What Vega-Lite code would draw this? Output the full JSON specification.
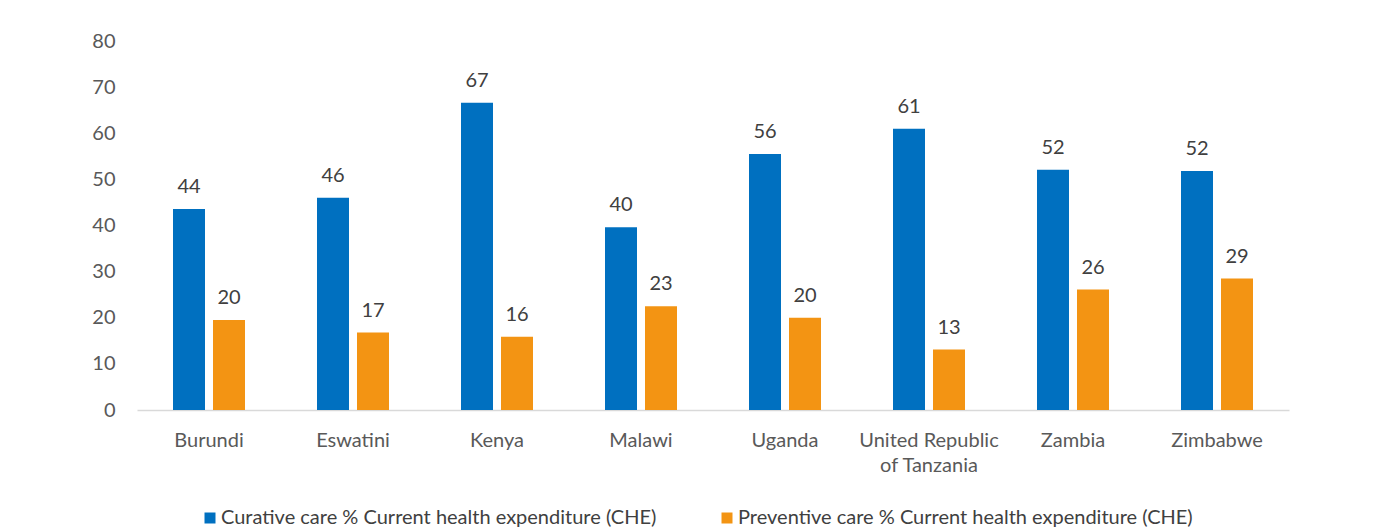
{
  "$schema": "https://vega.github.io/schema/vega-lite/v6.json",
  "autosize": "none",
  "width": 1152,
  "height": 369,
  "padding": {"left": 137, "top": 41, "right": 104, "bottom": 119},
  "background": "white",
  "config": {
    "font": "Lato",
    "view": {"stroke": null},
    "axis": {"labelFont": "Lato", "labelColor": "#595959", "labelFontSize": 20},
    "legend": {"labelFont": "Lato", "labelColor": "#404040", "labelFontSize": 20}
  },
  "data": {
    "values": [
      {"country": "Burundi", "series": "Curative care % Current health expenditure (CHE)", "value": 43.6},
      {"country": "Burundi", "series": "Preventive care % Current health expenditure (CHE)", "value": 19.5},
      {"country": "Eswatini", "series": "Curative care % Current health expenditure (CHE)", "value": 46.0},
      {"country": "Eswatini", "series": "Preventive care % Current health expenditure (CHE)", "value": 16.8},
      {"country": "Kenya", "series": "Curative care % Current health expenditure (CHE)", "value": 66.6},
      {"country": "Kenya", "series": "Preventive care % Current health expenditure (CHE)", "value": 15.9},
      {"country": "Malawi", "series": "Curative care % Current health expenditure (CHE)", "value": 39.6},
      {"country": "Malawi", "series": "Preventive care % Current health expenditure (CHE)", "value": 22.5},
      {"country": "Uganda", "series": "Curative care % Current health expenditure (CHE)", "value": 55.5},
      {"country": "Uganda", "series": "Preventive care % Current health expenditure (CHE)", "value": 20.0},
      {"country": "United Republic of Tanzania", "series": "Curative care % Current health expenditure (CHE)", "value": 61.0},
      {"country": "United Republic of Tanzania", "series": "Preventive care % Current health expenditure (CHE)", "value": 13.1},
      {"country": "Zambia", "series": "Curative care % Current health expenditure (CHE)", "value": 52.1},
      {"country": "Zambia", "series": "Preventive care % Current health expenditure (CHE)", "value": 26.1},
      {"country": "Zimbabwe", "series": "Curative care % Current health expenditure (CHE)", "value": 51.8},
      {"country": "Zimbabwe", "series": "Preventive care % Current health expenditure (CHE)", "value": 28.5}
    ]
  },
  "encoding": {
    "x": {
      "field": "country", "type": "nominal", "sort": null,
      "scale": {"paddingInner": 0, "paddingOuter": 0},
      "axis": {
        "title": null, "labelAngle": 0, "ticks": false,
        "domainColor": "#d9d9d9", "domainWidth": 1.5,
        "labelPadding": 20, "labelLineHeight": 25, "labelLimit": 300,
        "labelExpr": "datum.label == 'United Republic of Tanzania' ? ['United Republic', 'of Tanzania'] : datum.label"
      }
    },
    "xOffset": {
      "field": "series", "type": "nominal",
      "scale": {"paddingInner": 0.2, "paddingOuter": 0.9}
    },
    "y": {
      "field": "value", "type": "quantitative",
      "scale": {"domain": [0, 80], "nice": false},
      "axis": {"title": null, "values": [0, 10, 20, 30, 40, 50, 60, 70, 80], "grid": false, "domain": false, "ticks": false, "labelPadding": 22}
    }
  },
  "layer": [
    {
      "mark": {"type": "bar"},
      "encoding": {
        "color": {
          "field": "series", "type": "nominal",
          "scale": {
            "domain": ["Curative care % Current health expenditure (CHE)", "Preventive care % Current health expenditure (CHE)"],
            "range": ["#0070C0", "#F39413"]
          },
          "legend": {
            "title": null, "orient": "none", "legendX": 63, "legendY": 467, "direction": "horizontal",
            "symbolType": "square", "symbolSize": 121, "symbolStrokeWidth": 0,
            "columnPadding": 60, "labelOffset": 1, "labelLimit": 600
          }
        }
      }
    },
    {
      "mark": {"type": "text", "baseline": "bottom", "dy": -12, "fontSize": 20, "color": "#404040", "font": "Lato"},
      "encoding": {
        "text": {"field": "value", "type": "quantitative", "format": ".0f"}
      }
    }
  ]
}
